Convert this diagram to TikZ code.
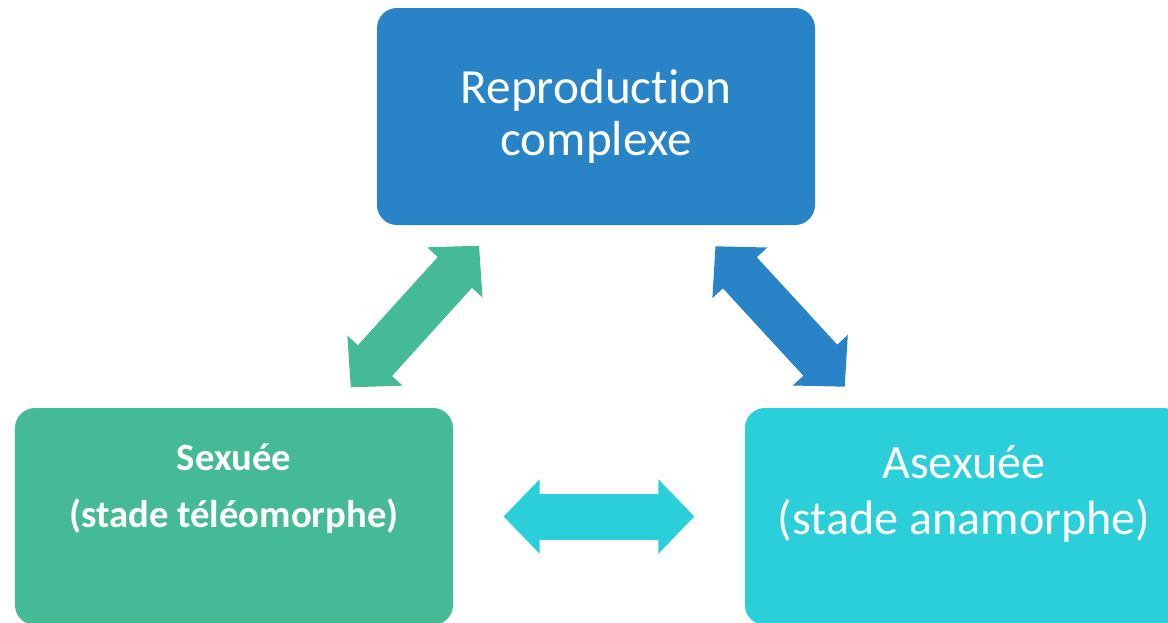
\documentclass[tikz,border=0pt]{standalone}
\usepackage{fontspec}
\setmainfont{Carlito}[Ligatures=NoCommon]
\usetikzlibrary{arrows.meta}

\definecolor{reproblue}{HTML}{2884C6}
\definecolor{sexgreen}{HTML}{44BA97}
\definecolor{asexcyan}{HTML}{2ACFD9}

\begin{document}
\begin{tikzpicture}[
    stagebox/.style={rectangle, rounded corners=0.2cm, minimum width=4.38cm, minimum height=2.17cm,
        text=white, align=center, inner sep=0pt},
    fatarrow/.style={line width=0.46cm,
        {Triangle[width=0.74cm,length=0.36cm,line width=1pt]}-{Triangle[width=0.74cm,length=0.36cm,line width=1pt]}}
    ]

    % 1. Frame of the picture
    \useasboundingbox (0,0) rectangle (11.68,-6.23);

    % 2. The three boxes
    \node[stagebox, fill=reproblue, font=\fontsize{14}{14.8}\selectfont] (repro) at (5.96,-1.165) {Reproduction\\complexe};
    \node[stagebox, fill=sexgreen, font=\fontsize{11}{16.2}\selectfont\bfseries, text depth=0.61cm] (sexuee) at (2.34,-5.165) {Sexuée\\(stade téléomorphe)};
    \node[stagebox, fill=asexcyan, font=\fontsize{13.7}{15.9}\selectfont, text depth=0.53cm] (asexuee) at (9.64,-5.165) {Asexuée\\(stade anamorphe)};

    % 3. Double arrows between the boxes
    \draw[fatarrow, color=sexgreen, shorten <=0.27cm, shorten >=0.27cm] (repro) -- (sexuee);
    \draw[fatarrow, color=reproblue, shorten <=0.28cm, shorten >=0.28cm] (repro) -- (asexuee);
    \draw[fatarrow, color=asexcyan, shorten <=0.5cm, shorten >=0.5cm] (sexuee) -- (asexuee);

\end{tikzpicture}
\end{document}
